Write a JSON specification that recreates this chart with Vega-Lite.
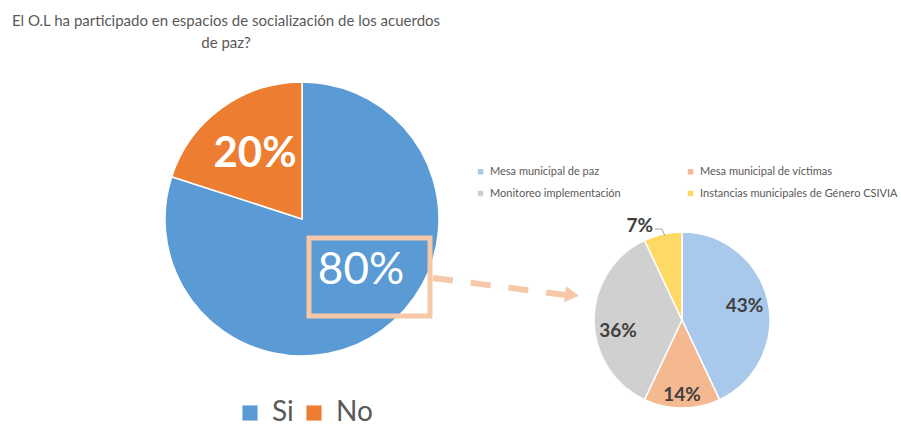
{
  "$schema": "https://vega.github.io/schema/vega-lite/v6.json",
  "width": 901,
  "height": 428,
  "padding": 0,
  "autosize": {"type": "none"},
  "background": "white",
  "config": {"view": {"stroke": null}, "font": "Lato"},
  "datasets": {
    "participacion": [
      {"respuesta": "Si", "valor": 0.8},
      {"respuesta": "No", "valor": 0.2}
    ],
    "espacios": [
      {"espacio": "Mesa municipal de paz", "orden": 1, "valor": 0.43},
      {"espacio": "Mesa municipal de víctimas", "orden": 2, "valor": 0.14},
      {"espacio": "Monitoreo implementación", "orden": 3, "valor": 0.36},
      {"espacio": "Instancias municipales de Género CSIVIA", "orden": 4, "valor": 0.07}
    ],
    "uno": [{}]
  },
  "layer": [
    {
      "data": {"name": "participacion"},
      "mark": {"type": "arc", "outerRadius": 137, "stroke": "white", "strokeWidth": 1.5},
      "encoding": {
        "x": {"datum": 302, "type": "quantitative", "scale": {"domain": [0, 901], "nice": false, "zero": false}, "axis": null},
        "y": {"datum": 219, "type": "quantitative", "scale": {"domain": [0, 428], "nice": false, "zero": false, "reverse": true}, "axis": null},
        "theta": {"field": "valor", "type": "quantitative", "stack": true},
        "order": {"field": "valor", "sort": "descending"},
        "color": {
          "field": "respuesta", "type": "nominal",
          "scale": {"domain": ["Si", "No"], "range": ["#5B9BD5", "#ED7D31"]},
          "legend": {
            "title": null, "orient": "none", "legendX": 236, "legendY": 399,
            "direction": "horizontal", "symbolType": "square", "symbolSize": 230,
            "symbolStrokeWidth": 0, "labelFont": "Lato", "labelFontSize": 28,
            "labelColor": "#595959", "labelOffset": 8, "columnPadding": 6
          }
        }
      }
    },
    {
      "data": {"name": "participacion"},
      "mark": {"type": "text", "radius": 80, "color": "white", "fontSize": 42, "fontWeight": "bold", "font": "Lato"},
      "encoding": {
        "x": {"datum": 302, "type": "quantitative", "scale": {"domain": [0, 901], "nice": false, "zero": false}, "axis": null},
        "y": {"datum": 219, "type": "quantitative", "scale": {"domain": [0, 428], "nice": false, "zero": false, "reverse": true}, "axis": null},
        "theta": {"field": "valor", "type": "quantitative", "stack": true},
        "order": {"field": "valor", "sort": "descending"},
        "text": {"condition": {"test": "datum.respuesta === 'No'", "field": "valor", "type": "quantitative", "format": ".0%"}, "value": ""}
      }
    },
    {
      "data": {"name": "participacion"},
      "mark": {"type": "text", "radius": 80, "dx": 12, "dy": -13, "color": "white", "fontSize": 44, "font": "Lato"},
      "encoding": {
        "x": {"datum": 302, "type": "quantitative", "scale": {"domain": [0, 901], "nice": false, "zero": false}, "axis": null},
        "y": {"datum": 219, "type": "quantitative", "scale": {"domain": [0, 428], "nice": false, "zero": false, "reverse": true}, "axis": null},
        "theta": {"field": "valor", "type": "quantitative", "stack": true},
        "order": {"field": "valor", "sort": "descending"},
        "text": {"condition": {"test": "datum.respuesta === 'Si'", "field": "valor", "type": "quantitative", "format": ".0%"}, "value": ""}
      }
    },
    {
      "data": {"name": "espacios"},
      "mark": {"type": "arc", "outerRadius": 88, "stroke": "white", "strokeWidth": 1.5},
      "encoding": {
        "x": {"datum": 682, "type": "quantitative", "scale": {"domain": [0, 901], "nice": false, "zero": false}, "axis": null},
        "y": {"datum": 320, "type": "quantitative", "scale": {"domain": [0, 428], "nice": false, "zero": false, "reverse": true}, "axis": null},
        "theta": {"field": "valor", "type": "quantitative", "stack": true},
        "order": {"field": "orden"},
        "color": {
          "field": "espacio", "type": "nominal",
          "scale": {
            "domain": ["Mesa municipal de paz", "Monitoreo implementación", "Mesa municipal de víctimas", "Instancias municipales de Género CSIVIA"],
            "range": ["#A9C9EC", "#D0D0D0", "#F5B992", "#FFD966"]
          },
          "legend": {
            "title": null, "orient": "none", "legendX": 475, "legendY": 166,
            "columns": 2, "columnPadding": 64, "rowPadding": 10,
            "symbolType": "square", "symbolSize": 30, "symbolStrokeWidth": 0,
            "labelFont": "Lato", "labelFontSize": 11, "labelColor": "#595959",
            "labelOffset": 4, "labelLimit": 300
          }
        }
      }
    },
    {
      "data": {"name": "espacios"},
      "mark": {"type": "text", "radius": 64, "color": "#404040", "fontSize": 19, "fontWeight": "bold", "font": "Lato"},
      "encoding": {
        "x": {"datum": 682, "type": "quantitative", "scale": {"domain": [0, 901], "nice": false, "zero": false}, "axis": null},
        "y": {"datum": 320, "type": "quantitative", "scale": {"domain": [0, 428], "nice": false, "zero": false, "reverse": true}, "axis": null},
        "theta": {"field": "valor", "type": "quantitative", "stack": true},
        "order": {"field": "orden"},
        "text": {"condition": {"test": "datum.orden === 1", "field": "valor", "type": "quantitative", "format": ".0%"}, "value": ""}
      }
    },
    {
      "data": {"name": "espacios"},
      "mark": {"type": "text", "radius": 64, "dy": 11, "color": "#404040", "fontSize": 19, "fontWeight": "bold", "font": "Lato"},
      "encoding": {
        "x": {"datum": 682, "type": "quantitative", "scale": {"domain": [0, 901], "nice": false, "zero": false}, "axis": null},
        "y": {"datum": 320, "type": "quantitative", "scale": {"domain": [0, 428], "nice": false, "zero": false, "reverse": true}, "axis": null},
        "theta": {"field": "valor", "type": "quantitative", "stack": true},
        "order": {"field": "orden"},
        "text": {"condition": {"test": "datum.orden === 2 || datum.orden === 3", "field": "valor", "type": "quantitative", "format": ".0%"}, "value": ""}
      }
    },
    {
      "data": {"name": "espacios"},
      "mark": {"type": "text", "radius": 106, "dx": -19, "dy": 9, "color": "#404040", "fontSize": 19, "fontWeight": "bold", "font": "Lato"},
      "encoding": {
        "x": {"datum": 682, "type": "quantitative", "scale": {"domain": [0, 901], "nice": false, "zero": false}, "axis": null},
        "y": {"datum": 320, "type": "quantitative", "scale": {"domain": [0, 428], "nice": false, "zero": false, "reverse": true}, "axis": null},
        "theta": {"field": "valor", "type": "quantitative", "stack": true},
        "order": {"field": "orden"},
        "text": {"condition": {"test": "datum.orden === 4", "field": "valor", "type": "quantitative", "format": ".0%"}, "value": ""}
      }
    },
    {
      "data": {"name": "uno"},
      "mark": {"type": "rule", "stroke": "#A6A6A6", "strokeWidth": 1},
      "encoding": {
        "x": {"datum": 655, "type": "quantitative", "scale": {"domain": [0, 901], "nice": false, "zero": false}, "axis": null},
        "x2": {"datum": 662},
        "y": {"datum": 229, "type": "quantitative", "scale": {"domain": [0, 428], "nice": false, "zero": false, "reverse": true}, "axis": null},
        "y2": {"datum": 229}
      }
    },
    {
      "data": {"name": "uno"},
      "mark": {"type": "rule", "stroke": "#A6A6A6", "strokeWidth": 1},
      "encoding": {
        "x": {"datum": 662, "type": "quantitative", "scale": {"domain": [0, 901], "nice": false, "zero": false}, "axis": null},
        "x2": {"datum": 665},
        "y": {"datum": 229, "type": "quantitative", "scale": {"domain": [0, 428], "nice": false, "zero": false, "reverse": true}, "axis": null},
        "y2": {"datum": 236}
      }
    },
    {
      "data": {"name": "uno"},
      "mark": {"type": "rect", "filled": false, "stroke": "#F6C8A8", "strokeWidth": 5},
      "encoding": {
        "x": {"datum": 309, "type": "quantitative", "scale": {"domain": [0, 901], "nice": false, "zero": false}, "axis": null},
        "x2": {"datum": 430},
        "y": {"datum": 238, "type": "quantitative", "scale": {"domain": [0, 428], "nice": false, "zero": false, "reverse": true}, "axis": null},
        "y2": {"datum": 316}
      }
    },
    {
      "data": {"name": "uno"},
      "mark": {"type": "rule", "stroke": "#F6C8A8", "strokeWidth": 6, "strokeDash": [20, 18], "strokeCap": "butt"},
      "encoding": {
        "x": {"datum": 433, "type": "quantitative", "scale": {"domain": [0, 901], "nice": false, "zero": false}, "axis": null},
        "x2": {"datum": 566},
        "y": {"datum": 278, "type": "quantitative", "scale": {"domain": [0, 428], "nice": false, "zero": false, "reverse": true}, "axis": null},
        "y2": {"datum": 295}
      }
    },
    {
      "data": {"name": "uno"},
      "mark": {"type": "point", "shape": "triangle-right", "filled": true, "color": "#F6C8A8", "opacity": 1, "size": 260, "angle": 7},
      "encoding": {
        "x": {"datum": 572, "type": "quantitative", "scale": {"domain": [0, 901], "nice": false, "zero": false}, "axis": null},
        "y": {"datum": 295, "type": "quantitative", "scale": {"domain": [0, 428], "nice": false, "zero": false, "reverse": true}, "axis": null}
      }
    },
    {
      "data": {"name": "uno"},
      "mark": {
        "type": "text", "text": ["El O.L ha participado en espacios de socialización de los acuerdos", "de paz?"],
        "align": "center", "baseline": "top", "fontSize": 15, "lineHeight": 22, "color": "#595959", "font": "Lato"
      },
      "encoding": {
        "x": {"datum": 226, "type": "quantitative", "scale": {"domain": [0, 901], "nice": false, "zero": false}, "axis": null},
        "y": {"datum": 14, "type": "quantitative", "scale": {"domain": [0, 428], "nice": false, "zero": false, "reverse": true}, "axis": null}
      }
    }
  ],
  "resolve": {"scale": {"color": "independent"}}
}
